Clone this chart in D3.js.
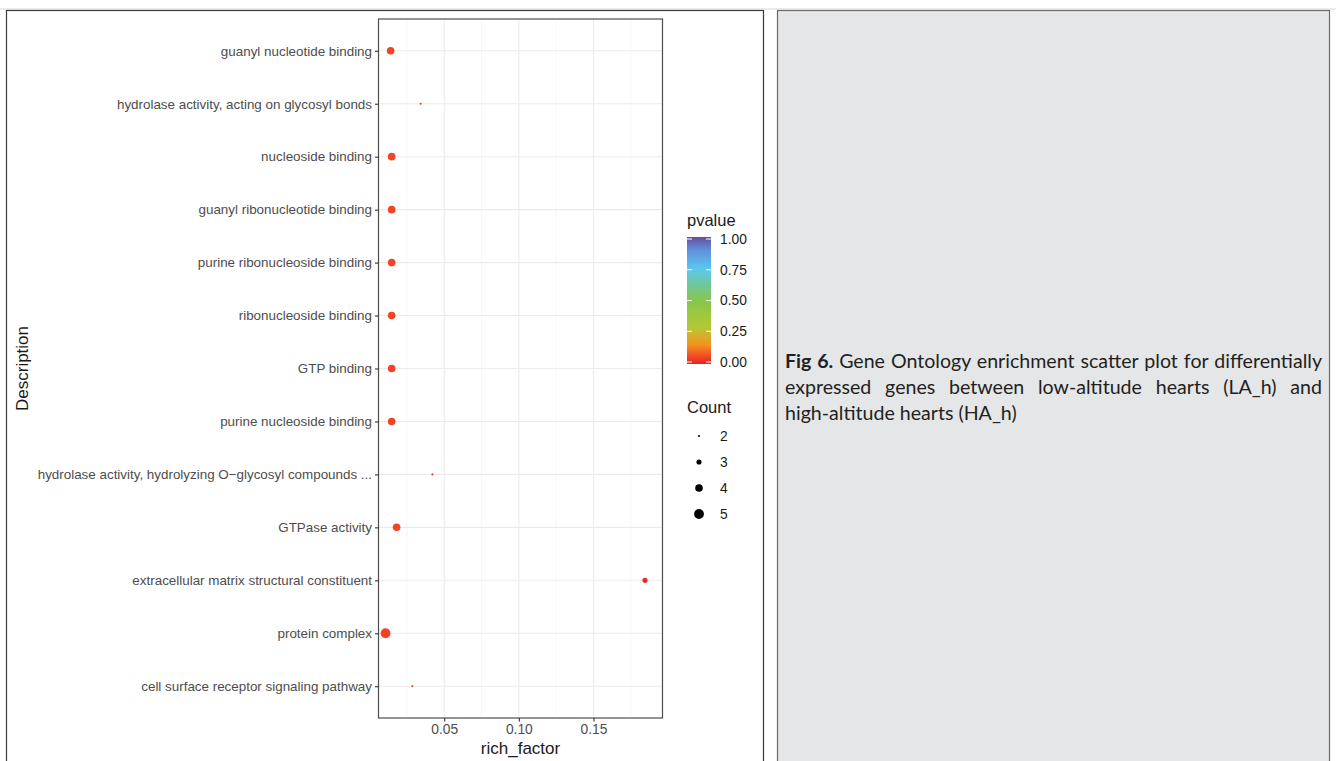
<!DOCTYPE html>
<html>
<head>
<meta charset="utf-8">
<script src="https://cdn.jsdelivr.net/npm/d3@7"></script>
<style>
  html, body { margin: 0; padding: 0; background: #ffffff; }
  #wrap { position: relative; width: 1336px; height: 761px; overflow: hidden; }
  #caption {
    position: absolute; left: 785px; top: 348px; width: 537px;
    font-family: "Lato", "Open Sans", sans-serif; font-size: 19.6px; line-height: 26px;
    color: #231f20;
  }
  #caption .ln { white-space: nowrap; }
  #caption .j { text-align: justify; text-align-last: justify; white-space: normal; }
  #caption b { font-weight: 700; }
</style>
</head>
<body>
<div id="wrap">
<svg id="chart" width="1336" height="761"></svg>
<div id="caption"></div>
</div>
<script>
// ---- data ----
const categories = [
  "guanyl nucleotide binding",
  "hydrolase activity, acting on glycosyl bonds",
  "nucleoside binding",
  "guanyl ribonucleotide binding",
  "purine ribonucleoside binding",
  "ribonucleoside binding",
  "GTP binding",
  "purine nucleoside binding",
  "hydrolase activity, hydrolyzing O\u2212glycosyl compounds ...",
  "GTPase activity",
  "extracellular matrix structural constituent",
  "protein complex",
  "cell surface receptor signaling pathway"
];
const richFactor = [0.0141, 0.0342, 0.0148, 0.0148, 0.0148, 0.0148, 0.0148, 0.0148, 0.0421, 0.0181, 0.1845, 0.0107, 0.0286];
const counts     = [4, 2, 4, 4, 4, 4, 4, 4, 2, 4, 3, 5, 2];
const pvalues    = [0.05, 0.05, 0.05, 0.05, 0.05, 0.05, 0.05, 0.05, 0.05, 0.05, 0.01, 0.045, 0.05];
const xTicks = [0.05, 0.10, 0.15];
const pTicks = [0.00, 0.25, 0.50, 0.75, 1.00];
const countLegend = [2, 3, 4, 5];
const captionBold = "Fig 6.";
const captionLines = [
  " Gene Ontology enrichment scatter plot for differentially",
  "expressed genes between low-altitude hearts (LA_h) and",
  "high-altitude hearts (HA_h)"
];

// caption
const cap = d3.select("#caption");
captionLines.forEach((t, i) => {
  const d = cap.append("div").attr("class", i < captionLines.length - 1 ? "ln j" : "ln");
  if (i === 0) { d.append("b").text(captionBold); }
  d.append("span").text(t);
});

const svg = d3.select("#chart");

// outer panels
svg.append("line").attr("x1", 0).attr("x2", 1336).attr("y1", 9).attr("y2", 9)
  .attr("stroke", "#bdbdbd").attr("stroke-width", 0.6);
svg.append("rect").attr("x", 6.5).attr("y", 10.5).attr("width", 757).attr("height", 760)
  .attr("fill", "#ffffff").attr("stroke", "#3a3a3a").attr("stroke-width", 1.2);
svg.append("rect").attr("x", 777.5).attr("y", 10.5).attr("width", 552).attr("height", 760)
  .attr("fill", "#e5e6e8").attr("stroke", "#6a6a6a").attr("stroke-width", 1.2);

// plot area
const P = { left: 378.5, right: 662.5, top: 19, bottom: 718 };
const x = d3.scaleLinear().domain([0.00597, 0.19622]).range([P.left, P.right]);
const y = d3.scalePoint().domain(categories).range([P.top, P.bottom]).padding(0.6);

const color = d3.scaleLinear()
  .domain([0, 0.08, 0.16, 0.3, 0.5, 0.75, 0.9, 1.0])
  .range(["#ee1f26", "#f15a24", "#f39a1f", "#b2c936", "#86c64a", "#5bc8ee", "#5f8fd8", "#6a4c9c"]);
const size = d3.scaleSqrt().domain([2, 5]).range([1.1, 4.9]);

const g = svg.append("g");
// grid
const minor = [0.025, 0.075, 0.125, 0.175];
g.selectAll(".minor").data(minor).join("line")
  .attr("x1", d => x(d)).attr("x2", d => x(d)).attr("y1", P.top).attr("y2", P.bottom)
  .attr("stroke", "#f2f2f2").attr("stroke-width", 0.6);
g.selectAll(".major").data(xTicks).join("line")
  .attr("x1", d => x(d)).attr("x2", d => x(d)).attr("y1", P.top).attr("y2", P.bottom)
  .attr("stroke", "#ebebeb").attr("stroke-width", 1.1);
g.selectAll(".hgrid").data(categories).join("line")
  .attr("x1", P.left).attr("x2", P.right).attr("y1", d => y(d)).attr("y2", d => y(d))
  .attr("stroke", "#ebebeb").attr("stroke-width", 1.1);

// points
g.selectAll(".pt").data(categories).join("circle")
  .attr("cx", (d, i) => x(richFactor[i]))
  .attr("cy", d => y(d))
  .attr("r", (d, i) => size(counts[i]))
  .attr("fill", (d, i) => color(pvalues[i]));

// panel border
svg.append("rect").attr("x", P.left).attr("y", P.top).attr("width", P.right - P.left).attr("height", P.bottom - P.top)
  .attr("fill", "none").attr("stroke", "#4d4d4d").attr("stroke-width", 1.2);

// axes
const fontFam = "'Liberation Sans', Arial, Helvetica, sans-serif";
const yAxis = svg.append("g").attr("transform", `translate(${P.left},0)`)
  .call(d3.axisLeft(y).tickSize(3.5).tickPadding(3));
yAxis.select(".domain").remove();
yAxis.selectAll("line").attr("stroke", "#333333").attr("stroke-width", 1.1);
yAxis.selectAll("text").attr("fill", "#4d4d4d").style("font-family", fontFam).style("font-size", "13.4px");

const xAxis = svg.append("g").attr("transform", `translate(0,${P.bottom})`)
  .call(d3.axisBottom(x).tickValues(xTicks).tickFormat(d3.format(".2f")).tickSize(3.5).tickPadding(3));
xAxis.select(".domain").remove();
xAxis.selectAll("line").attr("stroke", "#333333").attr("stroke-width", 1.1);
xAxis.selectAll("text").attr("fill", "#4d4d4d").style("font-family", fontFam).style("font-size", "13.8px");

svg.append("text").attr("x", (P.left + P.right) / 2).attr("y", 754)
  .attr("text-anchor", "middle").style("font-family", fontFam).style("font-size", "17px")
  .attr("fill", "#1a1a1a").text("rich_factor");
svg.append("text").attr("transform", `translate(28,${(P.top + P.bottom) / 2}) rotate(-90)`)
  .attr("text-anchor", "middle").style("font-family", fontFam).style("font-size", "17px")
  .attr("fill", "#1a1a1a").text("Description");

// pvalue legend
const L = { x: 687, top: 237, bottom: 364, w: 24 };
svg.append("text").attr("x", L.x).attr("y", 226).style("font-family", fontFam).style("font-size", "16.5px")
  .attr("fill", "#1a1a1a").text("pvalue");
const defs = svg.append("defs");
const grad = defs.append("linearGradient").attr("id", "pgrad").attr("x1", 0).attr("x2", 0).attr("y1", 1).attr("y2", 0);
d3.range(0, 1.0001, 0.05).forEach(t => grad.append("stop").attr("offset", t).attr("stop-color", color(t)));
svg.append("rect").attr("x", L.x).attr("y", L.top).attr("width", L.w).attr("height", L.bottom - L.top)
  .attr("fill", "url(#pgrad)");
const pl = d3.scaleLinear().domain([0, 1]).range([L.bottom - 2, L.top + 2]);
const pg = svg.append("g");
pTicks.forEach(t => {
  pg.append("line").attr("x1", L.x).attr("x2", L.x + 5).attr("y1", pl(t)).attr("y2", pl(t))
    .attr("stroke", "#ffffff").attr("stroke-width", 1);
  pg.append("line").attr("x1", L.x + L.w - 5).attr("x2", L.x + L.w).attr("y1", pl(t)).attr("y2", pl(t))
    .attr("stroke", "#ffffff").attr("stroke-width", 1);
  pg.append("text").attr("x", 720).attr("y", pl(t)).attr("dy", "0.35em")
    .style("font-family", fontFam).style("font-size", "13.8px").attr("fill", "#1a1a1a")
    .text(d3.format(".2f")(t));
});

// count legend
svg.append("text").attr("x", L.x).attr("y", 413).style("font-family", fontFam).style("font-size", "16.5px")
  .attr("fill", "#1a1a1a").text("Count");
const cy = d3.scalePoint().domain(countLegend).range([436, 514]);
const cg = svg.append("g");
countLegend.forEach(c => {
  cg.append("circle").attr("cx", 699).attr("cy", cy(c)).attr("r", size(c)).attr("fill", "#000000");
  cg.append("text").attr("x", 720).attr("y", cy(c)).attr("dy", "0.35em")
    .style("font-family", fontFam).style("font-size", "13.8px").attr("fill", "#1a1a1a").text(c);
});
</script>
</body>
</html>
